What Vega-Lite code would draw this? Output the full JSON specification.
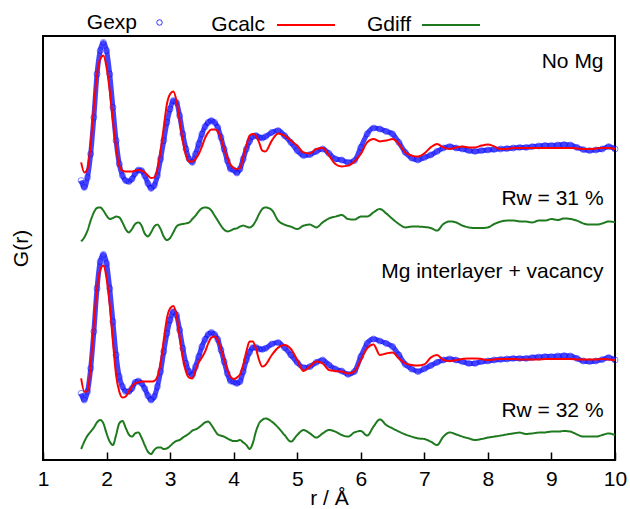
{
"$schema":"https://vega.github.io/schema/vega-lite/v6.json",
"width":572,"height":424,
"autosize":{"type":"none"},
"padding":{"left":43,"top":36,"right":15,"bottom":49},
"background":"white",
"config":{
 "font":"Liberation Sans",
 "view":{"stroke":"black","strokeWidth":2},
 "axis":{"labelFont":"Liberation Sans","titleFont":"Liberation Sans","labelColor":"black","titleColor":"black","grid":false,"titleFontWeight":"normal"},
 "legend":{"labelFont":"Liberation Sans","labelFontSize":21,"labelColor":"black","padding":0,"titlePadding":0,"labelAlign":"right"}
},
"data":{"values":[
{"r":1.6,"e1":13.97,"c1":14.88,"d1":10.93,"e2":3.33,"c2":4.08,"d2":0.55},
{"r":1.65,"e1":13.63,"c1":14.38,"d1":11.13,"e2":3.0,"c2":3.42,"d2":0.92},
{"r":1.7,"e1":14.13,"c1":14.55,"d1":11.47,"e2":3.42,"c2":3.42,"d2":1.22},
{"r":1.75,"e1":15.3,"c1":15.8,"d1":11.97,"e2":4.58,"c2":4.75,"d2":1.42},
{"r":1.8,"e1":17.13,"c1":17.63,"d1":12.38,"e2":6.42,"c2":6.75,"d2":1.62},
{"r":1.85,"e1":19.3,"c1":19.3,"d1":12.6,"e2":8.58,"c2":8.58,"d2":1.88},
{"r":1.9,"e1":20.47,"c1":20.05,"d1":12.63,"e2":9.92,"c2":9.5,"d2":2.0},
{"r":1.95,"e1":20.88,"c1":20.22,"d1":12.47,"e2":10.28,"c2":9.72,"d2":1.83},
{"r":2.0,"e1":20.47,"c1":19.63,"d1":12.22,"e2":9.83,"c2":9.08,"d2":1.33},
{"r":2.05,"e1":19.3,"c1":18.47,"d1":12.05,"e2":8.58,"c2":7.75,"d2":0.92},
{"r":2.1,"e1":17.63,"c1":16.97,"d1":12.1,"e2":6.92,"c2":5.92,"d2":0.75},
{"r":2.15,"e1":15.97,"c1":15.63,"d1":12.17,"e2":5.25,"c2":4.25,"d2":1.25},
{"r":2.2,"e1":14.8,"c1":14.72,"d1":12.13,"e2":4.17,"c2":3.42,"d2":1.83},
{"r":2.25,"e1":14.22,"c1":14.47,"d1":11.88,"e2":3.67,"c2":3.12,"d2":1.95},
{"r":2.3,"e1":13.97,"c1":14.43,"d1":11.55,"e2":3.42,"c2":3.17,"d2":1.62},
{"r":2.35,"e1":13.92,"c1":14.43,"d1":11.38,"e2":3.42,"c2":3.42,"d2":1.28},
{"r":2.4,"e1":14.05,"c1":14.42,"d1":11.55,"e2":3.58,"c2":3.67,"d2":1.17},
{"r":2.45,"e1":14.33,"c1":14.47,"d1":11.8,"e2":3.88,"c2":3.83,"d2":1.33},
{"r":2.5,"e1":14.5,"c1":14.5,"d1":11.88,"e2":3.95,"c2":3.88,"d2":1.38},
{"r":2.55,"e1":14.47,"c1":14.47,"d1":11.72,"e2":3.83,"c2":3.92,"d2":1.12},
{"r":2.6,"e1":14.22,"c1":14.38,"d1":11.33,"e2":3.58,"c2":3.92,"d2":0.75},
{"r":2.65,"e1":13.83,"c1":14.22,"d1":11.18,"e2":3.22,"c2":3.92,"d2":0.42},
{"r":2.7,"e1":13.58,"c1":14.1,"d1":11.38,"e2":3.0,"c2":3.92,"d2":0.3},
{"r":2.75,"e1":13.72,"c1":14.13,"d1":11.67,"e2":3.17,"c2":3.95,"d2":0.5},
{"r":2.8,"e1":14.22,"c1":14.55,"d1":11.77,"e2":3.67,"c2":4.17,"d2":0.62},
{"r":2.85,"e1":15.05,"c1":15.47,"d1":11.55,"e2":4.42,"c2":4.83,"d2":0.63},
{"r":2.9,"e1":15.97,"c1":16.63,"d1":11.17,"e2":5.42,"c2":6.0,"d2":0.55},
{"r":2.95,"e1":16.88,"c1":17.8,"d1":11.0,"e2":6.33,"c2":7.08,"d2":0.58},
{"r":3.0,"e1":17.55,"c1":18.3,"d1":11.1,"e2":7.0,"c2":7.58,"d2":0.7},
{"r":3.05,"e1":17.97,"c1":18.43,"d1":11.38,"e2":7.42,"c2":7.7,"d2":0.85},
{"r":3.1,"e1":17.88,"c1":17.97,"d1":11.67,"e2":7.25,"c2":7.25,"d2":0.95},
{"r":3.15,"e1":17.22,"c1":16.97,"d1":11.77,"e2":6.5,"c2":6.17,"d2":1.0},
{"r":3.2,"e1":16.3,"c1":15.97,"d1":11.8,"e2":5.58,"c2":5.08,"d2":1.12},
{"r":3.25,"e1":15.55,"c1":15.22,"d1":11.83,"e2":4.83,"c2":4.42,"d2":1.22},
{"r":3.3,"e1":15.05,"c1":14.93,"d1":11.88,"e2":4.42,"c2":4.12,"d2":1.33},
{"r":3.35,"e1":14.88,"c1":14.92,"d1":12.05,"e2":4.25,"c2":4.08,"d2":1.47},
{"r":3.4,"e1":15.3,"c1":15.05,"d1":12.22,"e2":4.67,"c2":4.5,"d2":1.53},
{"r":3.45,"e1":15.8,"c1":15.3,"d1":12.43,"e2":5.17,"c2":4.88,"d2":1.62},
{"r":3.5,"e1":16.3,"c1":15.67,"d1":12.58,"e2":5.67,"c2":5.12,"d2":1.75},
{"r":3.55,"e1":16.67,"c1":16.1,"d1":12.63,"e2":6.03,"c2":5.42,"d2":1.88},
{"r":3.6,"e1":16.88,"c1":16.38,"d1":12.6,"e2":6.28,"c2":5.83,"d2":1.92},
{"r":3.65,"e1":16.97,"c1":16.52,"d1":12.47,"e2":6.38,"c2":6.12,"d2":1.75},
{"r":3.7,"e1":16.88,"c1":16.52,"d1":12.22,"e2":6.28,"c2":6.17,"d2":1.5},
{"r":3.75,"e1":16.63,"c1":16.43,"d1":11.97,"e2":6.03,"c2":6.0,"d2":1.28},
{"r":3.8,"e1":16.13,"c1":16.1,"d1":11.72,"e2":5.5,"c2":5.55,"d2":1.22},
{"r":3.85,"e1":15.55,"c1":15.55,"d1":11.52,"e2":4.92,"c2":5.0,"d2":1.17},
{"r":3.9,"e1":14.97,"c1":15.1,"d1":11.43,"e2":4.33,"c2":4.5,"d2":1.08},
{"r":3.95,"e1":14.55,"c1":14.77,"d1":11.47,"e2":3.95,"c2":4.17,"d2":1.0},
{"r":4.0,"e1":14.5,"c1":14.6,"d1":11.55,"e2":3.9,"c2":4.05,"d2":0.95},
{"r":4.05,"e1":14.35,"c1":14.55,"d1":11.58,"e2":3.83,"c2":4.12,"d2":0.95},
{"r":4.1,"e1":14.55,"c1":14.6,"d1":11.67,"e2":3.92,"c2":4.28,"d2":1.0},
{"r":4.15,"e1":15.05,"c1":15.13,"d1":11.72,"e2":4.42,"c2":4.75,"d2":0.88},
{"r":4.2,"e1":15.55,"c1":15.72,"d1":11.67,"e2":5.0,"c2":5.42,"d2":0.75},
{"r":4.25,"e1":15.93,"c1":16.22,"d1":11.63,"e2":5.38,"c2":5.92,"d2":0.55},
{"r":4.3,"e1":16.17,"c1":16.3,"d1":11.72,"e2":5.62,"c2":5.92,"d2":0.83},
{"r":4.35,"e1":16.22,"c1":16.22,"d1":11.97,"e2":5.63,"c2":5.58,"d2":1.42},
{"r":4.4,"e1":16.13,"c1":15.88,"d1":12.3,"e2":5.55,"c2":5.0,"d2":1.83},
{"r":4.45,"e1":16.1,"c1":15.47,"d1":12.55,"e2":5.53,"c2":4.67,"d2":2.0},
{"r":4.5,"e1":16.17,"c1":15.43,"d1":12.63,"e2":5.58,"c2":4.75,"d2":2.08},
{"r":4.6,"e1":16.38,"c1":15.97,"d1":12.5,"e2":5.8,"c2":5.25,"d2":1.92},
{"r":4.7,"e1":16.47,"c1":16.33,"d1":11.97,"e2":5.87,"c2":5.62,"d2":1.62},
{"r":4.8,"e1":16.22,"c1":16.22,"d1":11.77,"e2":5.62,"c2":5.75,"d2":1.25},
{"r":4.9,"e1":15.88,"c1":15.97,"d1":11.67,"e2":5.25,"c2":5.55,"d2":0.92},
{"r":5.0,"e1":15.47,"c1":15.72,"d1":11.55,"e2":4.88,"c2":5.0,"d2":1.25},
{"r":5.1,"e1":15.22,"c1":15.38,"d1":11.72,"e2":4.62,"c2":4.45,"d2":1.5},
{"r":5.2,"e1":15.27,"c1":15.33,"d1":11.77,"e2":4.67,"c2":4.67,"d2":1.33},
{"r":5.3,"e1":15.43,"c1":15.55,"d1":11.63,"e2":4.88,"c2":4.92,"d2":1.12},
{"r":5.4,"e1":15.55,"c1":15.6,"d1":11.88,"e2":5.0,"c2":4.83,"d2":1.33},
{"r":5.5,"e1":15.33,"c1":15.22,"d1":12.08,"e2":4.75,"c2":4.5,"d2":1.5},
{"r":5.6,"e1":15.05,"c1":14.8,"d1":12.17,"e2":4.55,"c2":4.45,"d2":1.42},
{"r":5.7,"e1":15.0,"c1":14.68,"d1":12.25,"e2":4.45,"c2":4.42,"d2":1.25},
{"r":5.8,"e1":14.88,"c1":14.72,"d1":12.05,"e2":4.28,"c2":4.33,"d2":1.17},
{"r":5.9,"e1":14.97,"c1":14.93,"d1":12.02,"e2":4.42,"c2":4.42,"d2":1.38},
{"r":6.0,"e1":15.63,"c1":15.3,"d1":12.17,"e2":5.17,"c2":5.0,"d2":1.45},
{"r":6.1,"e1":16.3,"c1":15.88,"d1":12.17,"e2":5.83,"c2":5.58,"d2":1.22},
{"r":6.2,"e1":16.6,"c1":16.05,"d1":12.38,"e2":6.05,"c2":5.78,"d2":1.67},
{"r":6.3,"e1":16.55,"c1":15.93,"d1":12.55,"e2":5.95,"c2":5.25,"d2":2.03},
{"r":6.4,"e1":16.43,"c1":15.97,"d1":12.33,"e2":5.83,"c2":5.33,"d2":1.75},
{"r":6.5,"e1":16.3,"c1":16.05,"d1":12.05,"e2":5.67,"c2":5.38,"d2":1.58},
{"r":6.6,"e1":15.88,"c1":15.8,"d1":11.8,"e2":5.25,"c2":5.08,"d2":1.42},
{"r":6.7,"e1":15.38,"c1":15.38,"d1":11.63,"e2":4.78,"c2":4.83,"d2":1.28},
{"r":6.8,"e1":15.1,"c1":15.22,"d1":11.67,"e2":4.55,"c2":4.75,"d2":1.17},
{"r":6.9,"e1":15.0,"c1":15.17,"d1":11.67,"e2":4.42,"c2":4.72,"d2":1.08},
{"r":7.0,"e1":15.13,"c1":15.33,"d1":11.65,"e2":4.56,"c2":4.78,"d2":1.05},
{"r":7.1,"e1":15.25,"c1":15.63,"d1":11.6,"e2":4.72,"c2":5.12,"d2":0.92},
{"r":7.2,"e1":15.43,"c1":15.8,"d1":11.47,"e2":4.88,"c2":5.25,"d2":0.75},
{"r":7.3,"e1":15.6,"c1":15.63,"d1":11.8,"e2":5.0,"c2":5.0,"d2":1.17},
{"r":7.4,"e1":15.67,"c1":15.55,"d1":11.93,"e2":5.05,"c2":4.95,"d2":1.38},
{"r":7.5,"e1":15.6,"c1":15.63,"d1":11.88,"e2":5.0,"c2":5.0,"d2":1.28},
{"r":7.6,"e1":15.55,"c1":15.67,"d1":11.72,"e2":4.92,"c2":5.05,"d2":1.17},
{"r":7.7,"e1":15.47,"c1":15.63,"d1":11.63,"e2":4.83,"c2":5.08,"d2":1.08},
{"r":7.8,"e1":15.43,"c1":15.63,"d1":11.6,"e2":4.83,"c2":5.08,"d2":1.0},
{"r":7.9,"e1":15.47,"c1":15.72,"d1":11.6,"e2":4.92,"c2":5.05,"d2":1.05},
{"r":8.0,"e1":15.5,"c1":15.77,"d1":11.63,"e2":4.95,"c2":5.0,"d2":1.12},
{"r":8.1,"e1":15.53,"c1":15.68,"d1":11.8,"e2":5.0,"c2":5.03,"d2":1.17},
{"r":8.2,"e1":15.55,"c1":15.55,"d1":11.92,"e2":5.03,"c2":5.05,"d2":1.22},
{"r":8.3,"e1":15.57,"c1":15.55,"d1":11.97,"e2":5.05,"c2":5.05,"d2":1.28},
{"r":8.4,"e1":15.6,"c1":15.6,"d1":11.97,"e2":5.08,"c2":5.05,"d2":1.33},
{"r":8.5,"e1":15.63,"c1":15.6,"d1":11.93,"e2":5.08,"c2":5.03,"d2":1.37},
{"r":8.6,"e1":15.63,"c1":15.6,"d1":11.92,"e2":5.08,"c2":5.03,"d2":1.3},
{"r":8.7,"e1":15.67,"c1":15.6,"d1":11.88,"e2":5.12,"c2":5.03,"d2":1.33},
{"r":8.8,"e1":15.7,"c1":15.6,"d1":11.97,"e2":5.15,"c2":5.03,"d2":1.37},
{"r":8.9,"e1":15.73,"c1":15.6,"d1":11.97,"e2":5.17,"c2":5.05,"d2":1.38},
{"r":9.0,"e1":15.73,"c1":15.6,"d1":12.05,"e2":5.17,"c2":5.05,"d2":1.42},
{"r":9.1,"e1":15.75,"c1":15.6,"d1":12.0,"e2":5.2,"c2":5.05,"d2":1.42},
{"r":9.2,"e1":15.77,"c1":15.6,"d1":12.08,"e2":5.22,"c2":5.05,"d2":1.45},
{"r":9.3,"e1":15.75,"c1":15.6,"d1":12.05,"e2":5.2,"c2":5.05,"d2":1.42},
{"r":9.4,"e1":15.63,"c1":15.58,"d1":11.97,"e2":5.08,"c2":5.03,"d2":1.28},
{"r":9.5,"e1":15.52,"c1":15.55,"d1":11.83,"e2":4.95,"c2":5.02,"d2":1.17},
{"r":9.6,"e1":15.47,"c1":15.55,"d1":11.77,"e2":4.92,"c2":5.02,"d2":1.17},
{"r":9.7,"e1":15.5,"c1":15.57,"d1":11.77,"e2":4.95,"c2":5.03,"d2":1.17},
{"r":9.8,"e1":15.55,"c1":15.6,"d1":11.83,"e2":5.02,"c2":5.05,"d2":1.25},
{"r":9.9,"e1":15.67,"c1":15.6,"d1":11.93,"e2":5.12,"c2":5.03,"d2":1.33},
{"r":10.0,"e1":15.55,"c1":15.55,"d1":11.88,"e2":5.0,"c2":5.0,"d2":1.25}
]},
"encoding":{
 "x":{"field":"r","type":"quantitative","scale":{"domain":[1,10],"nice":false,"zero":false},
  "axis":{"title":"r /  Å","values":[1,2,3,4,5,6,7,8,9,10],"format":"d","tickSize":-8,"tickWidth":1.5,"tickColor":"black","labelPadding":16,"labelFontSize":21,"titleFontSize":21,"titlePadding":-2,"labelFlush":false,"domain":false,"labelOverlap":false}},
 "y":{"field":"g","type":"quantitative","scale":{"domain":[0,21.2],"nice":false,"zero":false},
  "axis":{"title":"G(r)","labels":false,"ticks":false,"domain":false,"titleFontSize":21,"titlePadding":12}}
},
"layer":[
 {"transform":[{"fold":["e1","e2"],"as":["pan","g"]}],
  "mark":{"type":"line","color":"#2222ff","strokeWidth":5,"opacity":0.85,"interpolate":"monotone"},
  "encoding":{"detail":{"field":"pan"}}},
 {"transform":[{"fold":["e1","e2"],"as":["pan","g"]}],
  "mark":{"type":"point","filled":false,"size":36,"strokeWidth":0.8,"opacity":0.6},
  "encoding":{"stroke":{"datum":"Gexp","scale":{"domain":["Gexp"],"range":["#0000ff"]},
   "legend":{"title":null,"orient":"none","legendX":106,"legendY":-24,
    "labelOffset":-33,"symbolType":"circle","symbolSize":30,"symbolStrokeWidth":0.8,"symbolFillColor":"transparent","symbolStrokeColor":"#0000ff","symbolOpacity":1}}}},
 {"transform":[{"fold":["c1","c2"],"as":["pan","g"]}],
  "mark":{"type":"line","strokeWidth":2,"interpolate":"monotone"},
  "encoding":{"detail":{"field":"pan"},"color":{"datum":"Gcalc","scale":{"domain":["Gcalc"],"range":["#ff0000"]},
   "legend":{"title":null,"orient":"none","legendX":233,"legendY":-41,
    "labelOffset":-71,"symbolType":"stroke","symbolSize":3364,"symbolStrokeWidth":2,"symbolStrokeColor":"#ff0000"}}}},
 {"transform":[{"fold":["d1","d2"],"as":["pan","g"]}],
  "mark":{"type":"line","strokeWidth":2,"interpolate":"monotone","color":"#1f7a1f"},
  "encoding":{"detail":{"field":"pan"},"strokeDash":{"datum":"Gdiff","scale":{"domain":["Gdiff"],"range":[[1,0]]},
   "legend":{"title":null,"orient":"none","legendX":378,"legendY":-41,
    "labelOffset":-70,"symbolType":"stroke","symbolSize":3364,"symbolStrokeWidth":2,"symbolStrokeColor":"#1f7a1f"}}}},
 {"mark":{"type":"rule","color":"black","strokeWidth":2},
  "encoding":{"y":{"datum":10.62},"x":{"value":0},"x2":{"value":572}}},
 {"data":{"values":[
   {"r":9.82,"g":19.9,"t":"No Mg"},
   {"r":9.82,"g":13.05,"t":"Rw = 31 %"},
   {"r":9.82,"g":9.4,"t":"Mg interlayer + vacancy"},
   {"r":9.82,"g":2.47,"t":"Rw = 32 %"}]},
  "mark":{"type":"text","align":"right","baseline":"middle","fontSize":21,"font":"Liberation Sans","color":"black"},
  "encoding":{"text":{"field":"t"}}}
]
}
